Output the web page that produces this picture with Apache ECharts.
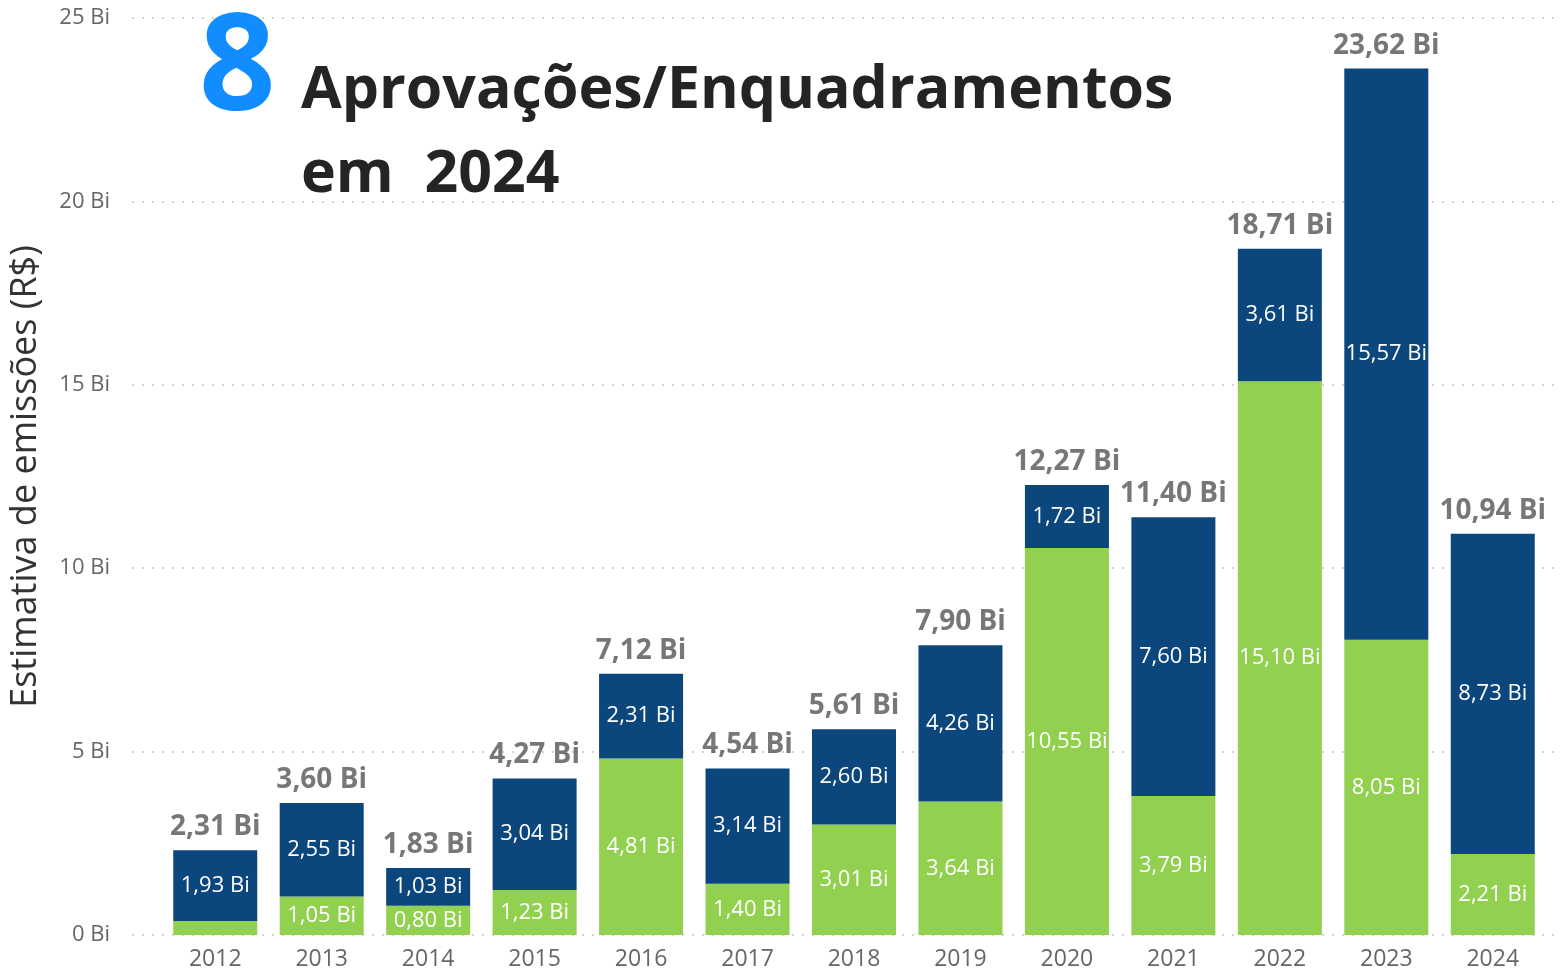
<!DOCTYPE html>
<html>
<head>
<meta charset="utf-8">
<script src="https://cdn.jsdelivr.net/npm/echarts@6/dist/echarts.min.js"></script>
<style>
html,body{margin:0;padding:0;background:#fff;}
#chart{width:1562px;height:980px;}
</style>
</head>
<body>
<div id="chart"></div>
<script>
const categories = ['2012','2013','2014','2015','2016','2017','2018','2019','2020','2021','2022','2023','2024'];
const greenValues = [0.38,1.05,0.80,1.23,4.81,1.40,3.01,3.64,10.55,3.79,15.10,8.05,2.21];
const blueValues  = [1.93,2.55,1.03,3.04,2.31,3.14,2.60,4.26,1.72,7.60,3.61,15.57,8.73];
const totals      = [2.31,3.60,1.83,4.27,7.12,4.54,5.61,7.90,12.27,11.40,18.71,23.62,10.94];
const yTicks = [0,5,10,15,20,25];

const fmt = v => v.toFixed(2).replace('.', ',') + ' Bi';
const FONT = '"Open Sans", "Segoe UI", sans-serif';

const chart = echarts.init(document.getElementById('chart'), null, {renderer:'canvas'});

const inner = {
  show: true, position: 'inside', color: '#fff', fontSize: 22, fontFamily: FONT,
  formatter: p => fmt(p.value)
};

chart.setOption({
  animation: false,
  textStyle: {fontFamily: FONT},
  title: [
    {text: '8', left: 194, top: 0, textStyle: {fontSize: 134, fontWeight: 'bold', color: '#118DFF', fontFamily: FONT}},
    {text: 'Aprovações/Enquadramentos\nem  2024', left: 296, top: 44,
     textStyle: {fontSize: 59, fontWeight: 'bold', color: '#252423', fontFamily: FONT, lineHeight: 84}}
  ],
  grid: [
    {left: 162, right: 16, top: 18, bottom: 45},
    {left: 130, right: 0, top: 18, bottom: 45}
  ],
  xAxis: [
    {type: 'category', gridIndex: 0, data: categories,
     axisLine: {show: false}, axisTick: {show: false},
     axisLabel: {fontSize: 23, color: '#666', margin: 13, fontFamily: FONT}},
    {type: 'category', gridIndex: 1, data: [''], show: false}
  ],
  yAxis: [
    {type: 'value', gridIndex: 0, min: 0, max: 25, interval: 5, show: false, splitLine: {show: false}},
    {type: 'value', gridIndex: 1, min: 0, max: 25, interval: 5,
     axisLine: {show: false}, axisTick: {show: false},
     axisLabel: {fontSize: 22, color: '#666', margin: 22, fontFamily: FONT,
       formatter: v => yTicks.includes(v) ? v + ' Bi' : ''},
     splitLine: {show: true, lineStyle: {type: [2, 8], color: '#c4c4c4', width: 1.5}},
     name: 'Estimativa de emissões (R$)', nameLocation: 'middle', nameGap: 88, nameRotate: 90,
     nameTextStyle: {fontSize: 36, color: '#333', fontFamily: FONT}}
  ],
  series: [
    {type: 'bar', name: 'green', stack: 't', xAxisIndex: 0, yAxisIndex: 0, barWidth: 84,
     itemStyle: {color: '#92D050'},
     data: greenValues.map(v => ({value: v, label: {show: v >= 0.5}})),
     label: inner},
    {type: 'bar', name: 'blue', stack: 't', xAxisIndex: 0, yAxisIndex: 0, barWidth: 84,
     itemStyle: {color: '#0B467D'},
     data: blueValues,
     label: inner},
    {type: 'scatter', xAxisIndex: 0, yAxisIndex: 0, symbolSize: 0, data: totals,
     label: {show: true, position: 'top', distance: 9, fontSize: 28, fontWeight: 'bold', color: '#555',
       fontFamily: FONT, formatter: p => fmt(p.value)}},
    {type: 'line', xAxisIndex: 1, yAxisIndex: 1, data: [], silent: true}
  ]
});
</script>
</body>
</html>
